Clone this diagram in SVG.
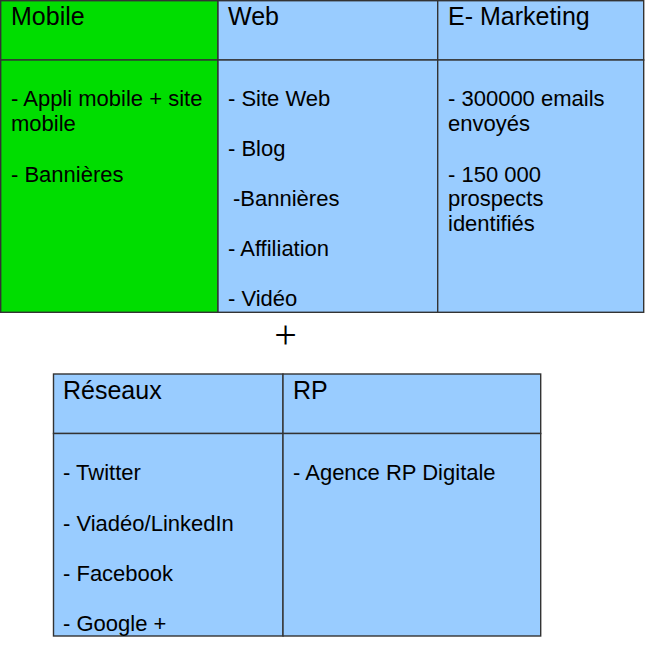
<svg xmlns="http://www.w3.org/2000/svg" width="645" height="657" viewBox="0 0 645 657">
<style>
.cell{stroke:#333;stroke-width:1.4}
.g{fill:#00dd00}
.b{fill:#99ccff}
.h{font-family:"Liberation Sans",Arial,sans-serif;font-size:25px;fill:#000}
.t{font-family:"Liberation Sans",Arial,sans-serif;font-size:22px;fill:#000}
</style>
<rect width="645" height="657" fill="#fff"/>
<g id="mobile">
<rect class="cell g" x="0.7" y="0.7" width="217.3" height="59.3"/>
<rect class="cell g" x="0.7" y="60" width="217.3" height="252.3"/>
<text class="h" x="11" y="25">Mobile</text>
<text class="t" x="11" y="106">- Appli mobile + site</text>
<text class="t" x="11" y="131">mobile</text>
<text class="t" x="11" y="181.5">- Bannières</text>
</g>
<g id="web">
<rect class="cell b" x="218" y="0.7" width="219.7" height="59.3"/>
<rect class="cell b" x="218" y="60" width="219.7" height="252.3"/>
<text class="h" x="228" y="25">Web</text>
<text class="t" x="228" y="106">- Site Web</text>
<text class="t" x="228" y="156">- Blog</text>
<text class="t" x="233" y="206">-Bannières</text>
<text class="t" x="228" y="256">- Affiliation</text>
<text class="t" x="228" y="306">- Vidéo</text>
</g>
<g id="emarketing">
<rect class="cell b" x="437.7" y="0.7" width="206" height="59.3"/>
<rect class="cell b" x="437.7" y="60" width="206" height="252.3"/>
<text class="h" x="448" y="25">E- Marketing</text>
<text class="t" x="448" y="106">- 300000 emails</text>
<text class="t" x="448" y="131">envoyés</text>
<text class="t" x="448" y="181.5">- 150 000</text>
<text class="t" x="448" y="206">prospects</text>
<text class="t" x="448" y="231">identifiés</text>
</g>
<g id="plus">
<text x="285.5" y="348" text-anchor="middle" font-family="'Liberation Serif',serif" font-size="40">+</text>
</g>
<g id="reseaux">
<rect class="cell b" x="53.5" y="374" width="229.5" height="59.5"/>
<rect class="cell b" x="53.5" y="433.5" width="229.5" height="202.5"/>
<text class="h" x="63" y="399">Réseaux</text>
<text class="t" x="63" y="480">- Twitter</text>
<text class="t" x="63" y="530.5">- Viadéo/LinkedIn</text>
<text class="t" x="63" y="580.5">- Facebook</text>
<text class="t" x="63" y="630.5">- Google +</text>
</g>
<g id="rp">
<rect class="cell b" x="283" y="374" width="257.7" height="59.5"/>
<rect class="cell b" x="283" y="433.5" width="257.7" height="202.5"/>
<text class="h" x="293" y="399">RP</text>
<text class="t" x="293" y="480">- Agence RP Digitale</text>
</g>
<g id="connectors"></g>
</svg>
